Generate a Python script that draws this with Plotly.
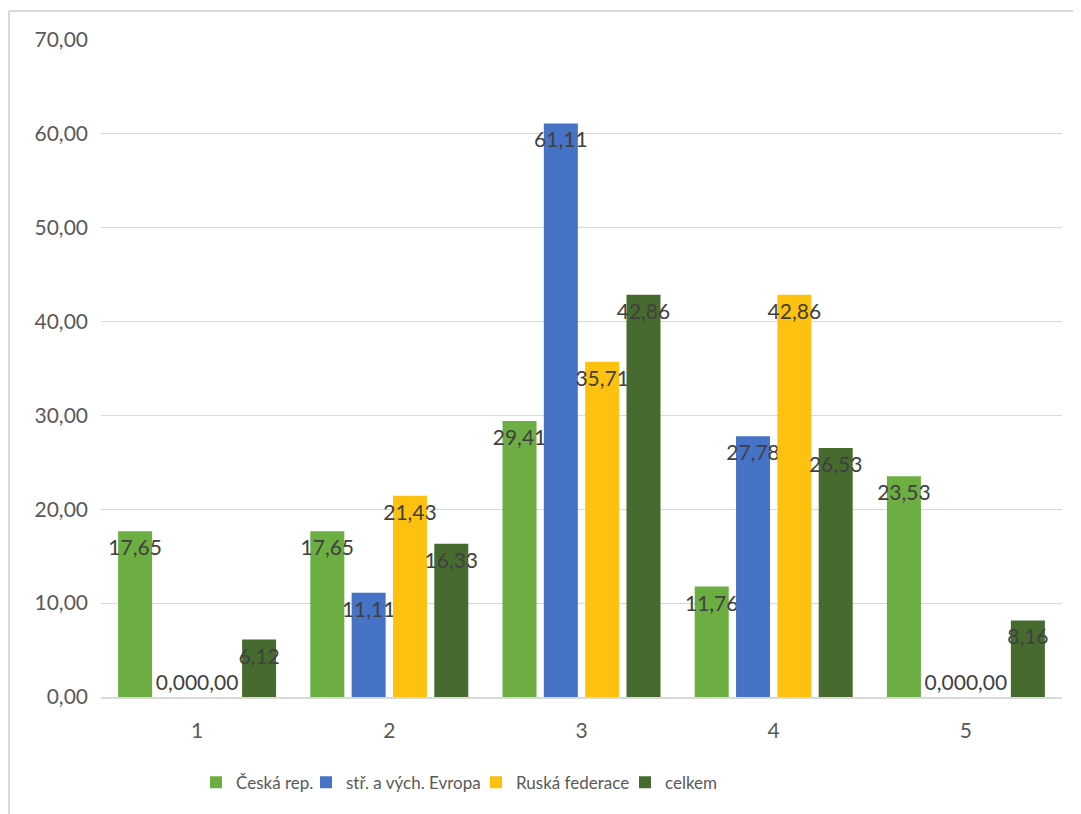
import plotly.graph_objects as go

categories = ["1", "2", "3", "4", "5"]
series_names = ["Česká rep.", "stř. a vých. Evropa", "Ruská federace", "celkem"]
ceska = [17.65, 17.65, 29.41, 11.76, 23.53]
evropa = [0.00, 11.11, 61.11, 27.78, 0.00]
ruska = [0.00, 21.43, 35.71, 42.86, 0.00]
celkem = [6.12, 16.33, 42.86, 26.53, 8.16]
colors = ["#6DAE43", "#4673C6", "#FDC10F", "#476B2F"]
ytick_vals = [0, 10, 20, 30, 40, 50, 60, 70]

FONT = "Lato, 'Open Sans', sans-serif"

W, H = 1073, 806
L, T, R, B = 93, 32, 19, 117
plot_w = W - L - R
plot_h = H - T - B

# legend entry left edges (figure px)
legend_px = [188, 298, 468, 617]
legend_ids = ["legend", "legend2", "legend3", "legend4"]

def fmt(v):
    return f"{v:.2f}".replace(".", ",")

fig = go.Figure()
for name, vals, col, lg in zip(series_names, [ceska, evropa, ruska, celkem], colors, legend_ids):
    lbl_font = dict(family=FONT, size=21, color="#404040")
    fig.add_trace(go.Bar(
        x=categories, y=vals, name=name, legend=lg,
        marker=dict(color=col, line=dict(width=0)),
        text=[fmt(v) for v in vals],
        textposition=["outside" if v == 0 else "inside" for v in vals],
        insidetextanchor="end",
        textangle=0,
        constraintext="none",
        cliponaxis=False,
        textfont=lbl_font, outsidetextfont=lbl_font, insidetextfont=lbl_font,
    ))

legend_layouts = {}
for lg, px in zip(legend_ids, legend_px):
    legend_layouts[lg] = dict(
        orientation="h", x=(px - L) / plot_w, xanchor="left",
        y=-0.103, yanchor="top",
        font=dict(family=FONT, size=17, color="#595959"),
        itemwidth=30, bgcolor="rgba(0,0,0,0)",
    )

fig.update_layout(
    width=W, height=H,
    margin=dict(l=L, r=R, t=T, b=B, autoexpand=False),
    paper_bgcolor="white", plot_bgcolor="white",
    barmode="group", bargap=0.14, bargroupgap=0.177,
    font=dict(family=FONT, size=21, color="#595959"),
    showlegend=True,
    xaxis=dict(showgrid=False, showline=True, linecolor="#D9D9D9", linewidth=2,
               ticks="", ticklabelstandoff=14,
               tickfont=dict(family=FONT, size=21, color="#595959")),
    yaxis=dict(range=[0, 70], tickvals=ytick_vals,
               ticktext=[fmt(v) for v in ytick_vals],
               showgrid=True, gridcolor="#D9D9D9", gridwidth=1,
               zeroline=False, showline=False, ticks="",
               ticklabelstandoff=12,
               tickfont=dict(family=FONT, size=21, color="#595959")),
    shapes=[
        dict(type="line", xref="paper", yref="paper",
             x0=(1 - L) / plot_w, x1=1.2,
             y0=(H - B - 3) / plot_h, y1=(H - B - 3) / plot_h,
             line=dict(color="#D9D9D9", width=2)),
        dict(type="line", xref="paper", yref="paper",
             x0=(1 - L) / plot_w, x1=(1 - L) / plot_w,
             y0=-0.3, y1=(H - B - 3) / plot_h,
             line=dict(color="#D9D9D9", width=2)),
    ],
    **legend_layouts,
)

fig.write_html("out.html")
